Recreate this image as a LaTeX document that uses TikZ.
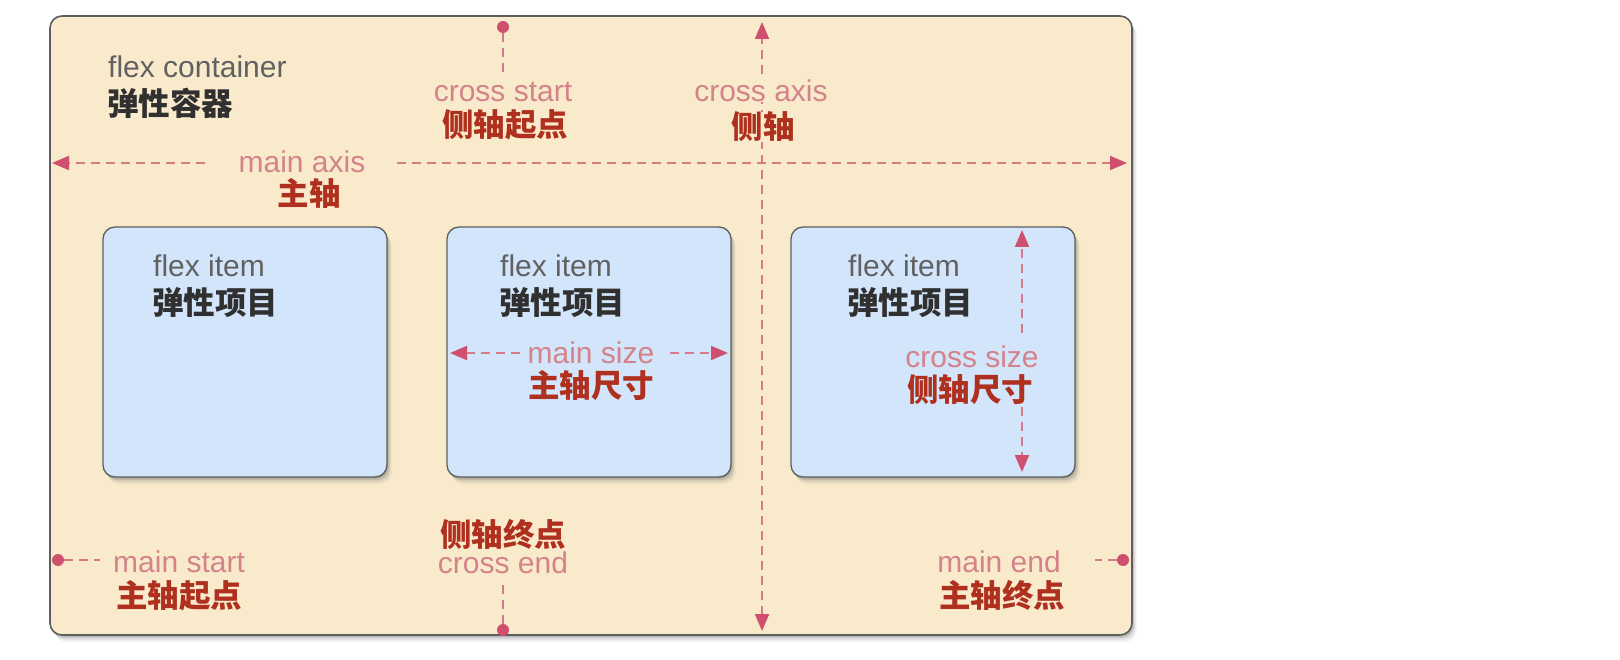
\documentclass[tikz,border=0pt]{standalone}
\usepackage{fontspec}
\setmainfont{Liberation Sans}
\newfontfamily\cjkfont{Noto Sans CJK SC}
\usetikzlibrary{arrows.meta,shadows}

\definecolor{boxbg}{HTML}{F8EACB}
\definecolor{itembg}{HTML}{D2E5FA}
\definecolor{edgegrey}{HTML}{5E5E5E}
\definecolor{axisred}{HTML}{CE506E}
\definecolor{dashred}{HTML}{D57A88}
\definecolor{enlabel}{HTML}{D4838A}
\definecolor{zhlabel}{HTML}{B0301F}
\definecolor{greytext}{HTML}{616161}
\definecolor{darktext}{HTML}{303030}

\tikzset{
  softshadow/.style={
    drop shadow={shadow xshift=1pt, shadow yshift=-1.5pt, opacity=.35},
    drop shadow={shadow xshift=2pt, shadow yshift=-3pt, opacity=.22},
    drop shadow={shadow xshift=3pt, shadow yshift=-4.5pt, opacity=.14},
    drop shadow={shadow xshift=4pt, shadow yshift=-6pt, opacity=.09},
    drop shadow={shadow xshift=5pt, shadow yshift=-7.5pt, opacity=.06}},
  container/.style={draw=edgegrey, line width=1.6pt, fill=boxbg,
    rounded corners=12pt, inner sep=0pt, outer sep=0pt, anchor=north west,
    softshadow},
  itembox/.style={draw=edgegrey, line width=1.3pt, fill=itembg,
    rounded corners=12pt, inner sep=0pt, outer sep=0pt, anchor=north west,
    minimum width=284pt, minimum height=250pt, softshadow},
  txt/.style={font=\fontsize{30}{34}\selectfont, inner sep=0pt},
  cjktxt/.style={inner sep=0pt, font=\fontsize{31.5}{36}\selectfont\cjkfont\bfseries},
  en/.style={txt, text=enlabel},
  zh/.style={cjktxt, text=zhlabel},
  engrey/.style={txt, text=greytext},
  zhdark/.style={cjktxt, text=darktext},
  guide/.style={draw=dashred, line width=2pt, dash pattern=on 9pt off 6pt},
  tipped/.style={-{Triangle[length=17pt,width=14pt,color=axisred]}},
  twotipped/.style={{Triangle[length=17pt,width=14pt,color=axisred]}-{Triangle[length=17pt,width=14pt,color=axisred]}},
  enddot/.style={circle, fill=axisred, inner sep=0pt, minimum size=12pt},
}

\begin{document}
\begin{tikzpicture}[x=1pt, y=-1pt]
  \useasboundingbox (0,0) rectangle (1620,660);

  % container and items
  \node[container, minimum width=1082pt, minimum height=619pt] (ctr) at (50,16) {};
  \node[itembox] (it1) at (103,227) {};
  \node[itembox] (it2) at (447,227) {};
  \node[itembox] (it3) at (791,227) {};

  % container caption
  \node[engrey, anchor=base west] (fc-en) at (108,78) {flex container};
  \node[zhdark, anchor=base west] (fc-zh) at (107,116) {弹性容器};

  % item captions
  \node[engrey, anchor=base west] (i1-en) at (153,277) {flex item};
  \node[zhdark, anchor=base west] (i1-zh) at (152,315) {弹性项目};
  \node[engrey, anchor=base west] (i2-en) at (500,277) {flex item};
  \node[zhdark, anchor=base west] (i2-zh) at (499,315) {弹性项目};
  \node[engrey, anchor=base west] (i3-en) at (848,277) {flex item};
  \node[zhdark, anchor=base west] (i3-zh) at (847,315) {弹性项目};

  % cross axis (vertical, through the whole container)
  \coordinate (ca-top) at (762,22);
  \coordinate (ca-bot) at (762,631);
  \draw[guide, twotipped] (ca-bot) -- (ca-top);
  \node[en, anchor=base, fill=boxbg] (ca-en) at (761,102) {cross axis};
  \node[zh, anchor=base, fill=boxbg] (ca-zh) at (763,139) {侧轴};

  % main axis (horizontal), broken around its label
  \node[en, anchor=base] (ma-en) at (302,173) {main axis};
  \node[zh, anchor=base] (ma-zh) at (309,206) {主轴};
  \coordinate (ma-l) at (205,163);
  \coordinate (ma-ltip) at (52,163);
  \coordinate (ma-r) at (397,163);
  \coordinate (ma-rtip) at (1127,163);
  \draw[guide, tipped] (ma-l) -- (ma-ltip);
  \draw[guide, tipped] (ma-r) -- (ma-rtip);

  % cross start
  \node[enddot] (cs-dot) at (503,27) {};
  \coordinate (cs-end) at (503,72);
  \draw[guide] (cs-dot) -- (cs-end);
  \node[en, anchor=base] (cs-en) at (503,102) {cross start};
  \node[zh, anchor=base] (cs-zh) at (505,137) {侧轴起点};

  % cross end
  \node[zh, anchor=base] (ce-zh) at (503,546) {侧轴终点};
  \node[en, anchor=base] (ce-en) at (503,573) {cross end};
  \node[enddot] (ce-dot) at (503,630) {};
  \coordinate (ce-end) at (503,583);
  \draw[guide] (ce-dot) -- (ce-end);

  % main start
  \node[enddot] (ms-dot) at (58,560) {};
  \coordinate (ms-end) at (100,560);
  \draw[guide] (ms-dot) -- (ms-end);
  \node[en, anchor=base west] (ms-en) at (113,572) {main start};
  \node[zh, anchor=base west] (ms-zh) at (116,607) {主轴起点};

  % main end
  \node[enddot] (me-dot) at (1123,560) {};
  \coordinate (me-end) at (1095,560);
  \draw[guide] (me-dot) -- (me-end);
  \node[en, anchor=base east] (me-en) at (1061,572) {main end};
  \node[zh, anchor=base west] (me-zh) at (939,607) {主轴终点};

  % main size inside the second item
  \node[en, anchor=base] (mz-en) at (591,363) {main size};
  \node[zh, anchor=base] (mz-zh) at (591,397) {主轴尺寸};
  \coordinate (mz-l) at (520,353);
  \coordinate (mz-ltip) at (450,353);
  \coordinate (mz-r) at (670,353);
  \coordinate (mz-rtip) at (728,353);
  \draw[guide, tipped] (mz-l) -- (mz-ltip);
  \draw[guide, tipped] (mz-r) -- (mz-rtip);

  % cross size inside the third item
  \node[en, anchor=base] (cz-en) at (972,367) {cross size};
  \node[zh, anchor=base] (cz-zh) at (970,401) {侧轴尺寸};
  \coordinate (cz-t) at (1022,333);
  \coordinate (cz-ttip) at (1022,230);
  \coordinate (cz-b) at (1022,407);
  \coordinate (cz-btip) at (1022,472);
  \draw[guide, tipped] (cz-t) -- (cz-ttip);
  \draw[guide, tipped] (cz-b) -- (cz-btip);
\end{tikzpicture}
\end{document}
